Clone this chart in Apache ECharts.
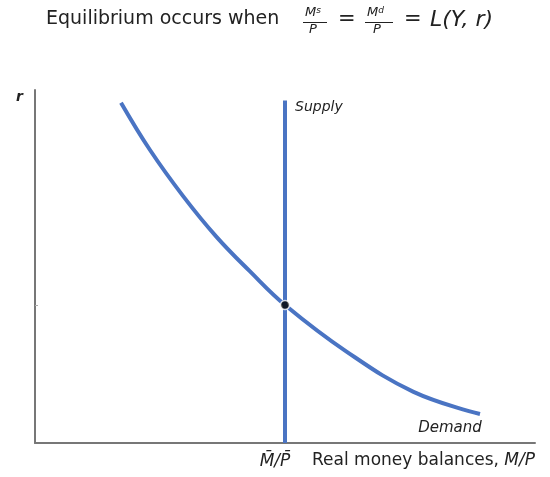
<!DOCTYPE html>
<html>
<head>
<meta charset="utf-8">
<script src="https://cdn.jsdelivr.net/npm/echarts@6/dist/echarts.min.js"></script>
<style>
  html, body { margin: 0; padding: 0; background: #fff; }
  #chart { width: 550px; height: 477px; }
</style>
</head>
<body>
<div id="chart"></div>
<script>
// money demand curve (x = M/P, y = r)
const demandX = [17.2, 23, 29.7, 36.3, 43, 50, 62.3, 75.7, 89]
const demandY = [96.4, 83.0, 69.8, 58.4, 48.6, 39.1, 25.9, 14.5, 8.2]
// vertical supply of real balances
const supplyX = [50, 50]
const supplyY = [0, 97]
// equilibrium
const eqPoint = [50, 39.1]
const xTickValues = [50]
const yTickValues = [39.1]

const blue = '#4a74c3'
const axisColor = '#777'
const font = '"DejaVu Sans", sans-serif'

const chart = echarts.init(document.getElementById('chart'))

const demandData = demandX.map((x, i) => [x, demandY[i]])
const supplyData = supplyX.map((x, i) => [x, supplyY[i]])

// 末端标签
demandData[demandData.length - 1] = {
  value: demandData[demandData.length - 1],
  label: {
    show: true, position: 'bottom', offset: [-30, 2], formatter: 'Demand',
    fontStyle: 'italic', fontSize: 15, color: '#222', fontFamily: font,
  },
}
supplyData[1] = {
  value: supplyData[1],
  label: {
    show: true, position: 'right', offset: [5, 7], formatter: 'Supply',
    fontStyle: 'italic', fontSize: 14, color: '#222', fontFamily: font,
  },
}

chart.setOption({
  animation: false,
  grid: { left: 35, right: 15, top: 90, bottom: 34 },
  xAxis: {
    type: 'value', min: 0, max: 100,
    axisLine: { show: true, lineStyle: { color: axisColor, width: 2 } },
    axisTick: { show: false },
    splitLine: { show: false },
    axisLabel: {
      customValues: xTickValues,
      formatter: () => '{i|M\u0304/P\u0304}',
      margin: 10,
      padding: [0, 20, 0, 0],
      rich: { i: { fontStyle: 'italic', fontSize: 17, color: '#222', fontFamily: font } },
    },
    name: '{n|Real money balances, }{i|M/P}',
    nameLocation: 'end',
    nameGap: 0,
    nameTextStyle: {
      align: 'right', verticalAlign: 'top', padding: [9, 0, 0, 0],
      rich: {
        n: { fontSize: 17, color: '#222', fontFamily: font },
        i: { fontSize: 17, color: '#222', fontStyle: 'italic', fontFamily: font },
      },
    },
  },
  yAxis: {
    type: 'value', min: 0, max: 100,
    axisLine: { show: true, lineStyle: { color: axisColor, width: 2 } },
    axisTick: { show: true, customValues: yTickValues, inside: true, length: 3, lineStyle: { color: '#aaa' } },
    axisLabel: { show: false },
    splitLine: { show: false },
    name: 'r',
    nameLocation: 'end',
    nameGap: 0,
    nameTextStyle: {
      align: 'right', verticalAlign: 'top', padding: [0, 12, 0, 0],
      fontStyle: 'italic', fontWeight: 'bold', fontSize: 14, color: '#222', fontFamily: font,
    },
  },
  series: [
    {
      name: 'Demand', type: 'line', smooth: 0.4,
      showSymbol: true, symbolSize: 0,
      data: demandData,
      lineStyle: { color: blue, width: 4 },
      itemStyle: { color: blue },
      z: 2,
    },
    {
      name: 'Supply', type: 'line',
      showSymbol: true, symbolSize: 0,
      data: supplyData,
      lineStyle: { color: blue, width: 4 },
      itemStyle: { color: blue },
      z: 2,
    },
    {
      name: 'Equilibrium', type: 'scatter',
      data: [eqPoint],
      symbolSize: 9,
      itemStyle: { color: '#000', borderColor: '#fff', borderWidth: 1.5 },
      z: 5,
    },
  ],
  // 标题公式：Ms/P = Md/P = L(Y, r)
  graphic: [
    { type: 'text', left: 46, top: 10, style: { text: 'Equilibrium occurs when', font: '19px ' + font, fill: '#222' } },
    { type: 'text', left: 305, top: 6, style: { text: '{i|M}{s|s}', rich: { i: { fontStyle: 'italic', fontSize: 13, fontFamily: font, fill: '#222' }, s: { fontSize: 9, fontStyle: 'italic', fontFamily: font, verticalAlign: 'top', fill: '#222' } } } },
    { type: 'rect', left: 303, top: 22, shape: { width: 24, height: 1 }, style: { fill: '#222' } },
    { type: 'text', left: 309, top: 23, style: { text: 'P', font: 'italic 13px ' + font, fill: '#222' } },
    { type: 'text', left: 338, top: 9, style: { text: '=', font: '21px ' + font, fill: '#222' } },
    { type: 'text', left: 367, top: 6, style: { text: '{i|M}{s|d}', rich: { i: { fontStyle: 'italic', fontSize: 13, fontFamily: font, fill: '#222' }, s: { fontSize: 9, fontStyle: 'italic', fontFamily: font, verticalAlign: 'top', fill: '#222' } } } },
    { type: 'rect', left: 365, top: 22, shape: { width: 28, height: 1 }, style: { fill: '#222' } },
    { type: 'text', left: 373, top: 23, style: { text: 'P', font: 'italic 13px ' + font, fill: '#222' } },
    { type: 'text', left: 404, top: 9, style: { text: '=', font: '21px ' + font, fill: '#222' } },
    { type: 'text', left: 430, top: 9, style: { text: 'L(Y, r)', font: 'italic 22px ' + font, fill: '#222' } },
  ],
})
</script>
</body>
</html>
